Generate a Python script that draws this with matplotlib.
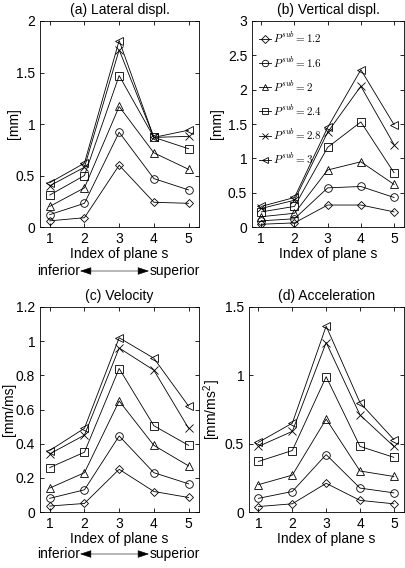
import matplotlib.pyplot as plt
from matplotlib.patches import FancyArrowPatch

plt.rcParams['font.family'] = ['Liberation Sans', 'DejaVu Sans']
plt.rcParams['mathtext.fontset'] = 'cm'

planes = [1, 2, 3, 4, 5]
pressures = ['1.2', '1.6', '2', '2.4', '2.8', '3']
markers = ['D', 'o', '^', 's', 'x', '<']

# (a) lateral displacement [mm]
lateral = [
    [0.06, 0.09, 0.60, 0.24, 0.23],
    [0.12, 0.23, 0.92, 0.47, 0.36],
    [0.20, 0.38, 1.17, 0.72, 0.56],
    [0.31, 0.50, 1.47, 0.87, 0.76],
    [0.40, 0.58, 1.72, 0.87, 0.88],
    [0.43, 0.62, 1.81, 0.87, 0.94],
]
# (b) vertical displacement [mm]
vertical = [
    [0.04, 0.06, 0.32, 0.32, 0.22],
    [0.09, 0.12, 0.57, 0.59, 0.43],
    [0.15, 0.20, 0.83, 0.95, 0.62],
    [0.22, 0.30, 1.16, 1.53, 0.79],
    [0.27, 0.39, 1.38, 2.05, 1.20],
    [0.30, 0.43, 1.45, 2.29, 1.49],
]
# (c) velocity [mm/ms]
velocity = [
    [0.035, 0.05, 0.25, 0.12, 0.085],
    [0.08, 0.13, 0.445, 0.23, 0.165],
    [0.14, 0.23, 0.65, 0.39, 0.27],
    [0.26, 0.35, 0.84, 0.505, 0.39],
    [0.34, 0.45, 0.96, 0.83, 0.49],
    [0.36, 0.49, 1.02, 0.90, 0.62],
]
# (d) acceleration [mm/ms^2]
acceleration = [
    [0.04, 0.06, 0.21, 0.085, 0.06],
    [0.10, 0.15, 0.42, 0.175, 0.14],
    [0.20, 0.27, 0.68, 0.30, 0.26],
    [0.37, 0.45, 0.99, 0.48, 0.40],
    [0.48, 0.59, 1.24, 0.71, 0.48],
    [0.51, 0.65, 1.36, 0.80, 0.53],
]

W, H = 406, 568
fig = plt.figure(figsize=(W / 100, H / 100), dpi=100)


def px_axes(x0, y0, x1, y1):
    return fig.add_axes([x0 / W, 1 - y1 / H, (x1 - x0) / W, (y1 - y0) / H])


# axes, data, title, ylabel, ymax, ystep, ylabel x (px)
panels = [
    (px_axes(40, 21, 199, 227), lateral, '(a) Lateral displ.', '[mm]', 2, 0.5, 21),
    (px_axes(252, 21, 404, 227), vertical, '(b) Vertical displ.', '[mm]', 3, 0.5, 224),
    (px_axes(40, 307, 199, 512), velocity, '(c) Velocity', '[mm/ms]', 1.2, 0.2, 16),
    (px_axes(249, 307, 404, 512), acceleration, '(d) Acceleration',
     '[mm/ms$^\\mathregular{2}$]', 1.5, 0.5, 223),
]

for ax, data, title, ylab, ymax, step, ylx in panels:
    for vals, m, p in zip(data, markers, pressures):
        ms = 4.5 if m == 'D' else 5.5
        ax.plot(planes, vals, color='black', lw=0.6, marker=m, ms=ms,
                mfc='none', mec='black', mew=0.6, label='$P^{sub} = ' + p + '$')
    ax.set_xlim(0.72, 5.3)
    ax.set_ylim(0, ymax)
    ax.set_xticks(planes)
    n = int(round(ymax / step))
    ticks = [round(i * step, 2) for i in range(n + 1)]
    ax.set_yticks(ticks)
    ax.set_yticklabels(['%g' % t for t in ticks])
    ax.tick_params(direction='in', top=True, right=True, labelsize=10, length=3, width=0.6)
    for s in ax.spines.values():
        s.set_linewidth(0.6)
    ax.set_title(title, fontsize=10, pad=5)
    ax.set_xlabel('Index of plane s', fontsize=10, labelpad=1)
    ax.set_ylabel(ylab, fontsize=10)
    x0 = ax.get_position().x0 * W
    ax.yaxis.set_label_coords((ylx - x0) / (ax.get_position().width * W), 0.5)

panels[1][0].legend(loc='upper left', frameon=False, fontsize=8, handlelength=1.1,
                    handletextpad=0.2, labelspacing=0.85, borderaxespad=0.2,
                    markerscale=0.85, bbox_to_anchor=(0.0, 0.985))

# inferior <-> superior annotation below the left column
for ypx in [271, 554]:
    yf = 1 - ypx / H
    fig.text(80 / W, yf, 'inferior', ha='right', va='center', fontsize=10)
    fig.text(150 / W, yf, 'superior', ha='left', va='center', fontsize=10)
    fig.patches.append(FancyArrowPatch(
        (80 / W, yf), (149 / W, yf), transform=fig.transFigure,
        arrowstyle='<|-|>,head_length=2.4,head_width=0.8', color='black', lw=0.4,
        mutation_scale=3, shrinkA=0, shrinkB=0))

fig.savefig('out.png', dpi=100)
